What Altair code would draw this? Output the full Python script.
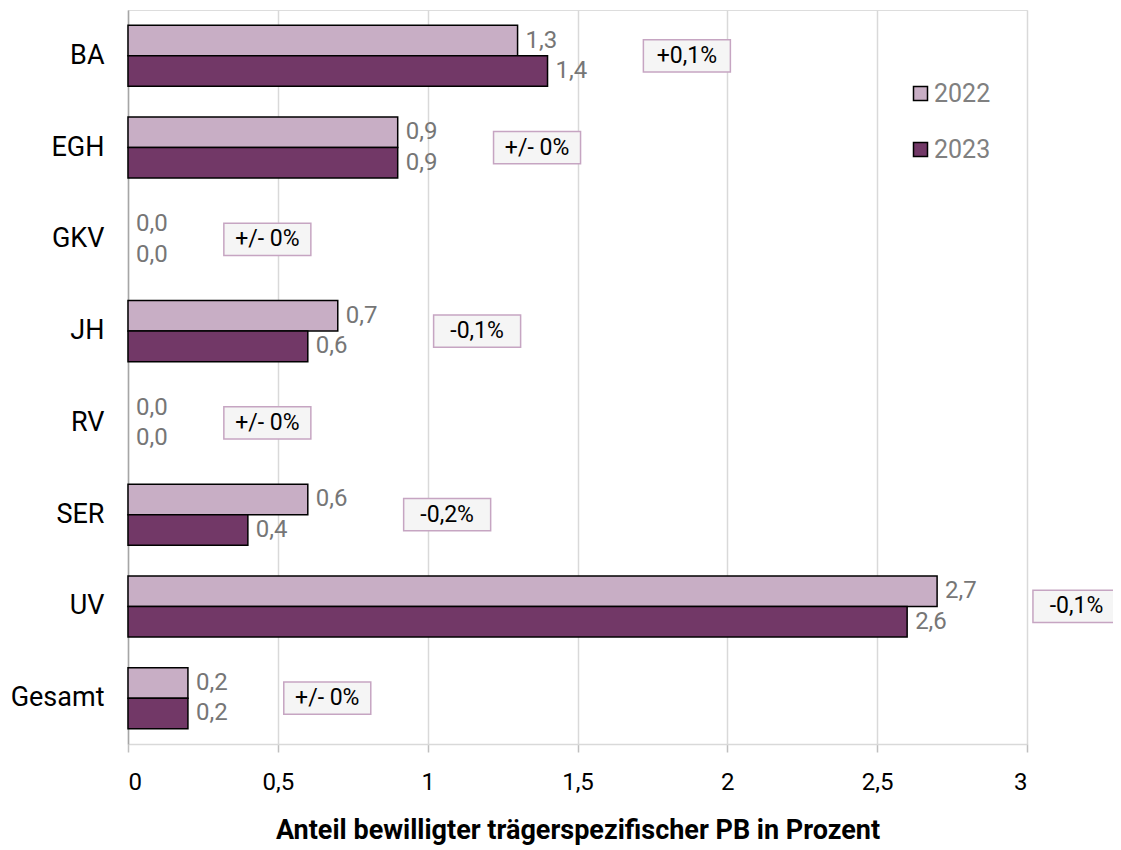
import altair as alt
import pandas as pd

categories = ["BA", "EGH", "GKV", "JH", "RV", "SER", "UV", "Gesamt"]
years = ["2022", "2023"]
values_2022 = [1.3, 0.9, 0.0, 0.7, 0.0, 0.6, 2.7, 0.2]
values_2023 = [1.4, 0.9, 0.0, 0.6, 0.0, 0.4, 2.6, 0.2]
changes = ["+0,1%", "+/- 0%", "+/- 0%", "-0,1%", "+/- 0%", "-0,2%", "-0,1%", "+/- 0%"]
colors = ["#c8aec5", "#723867"]
x_ticks = [0, 0.5, 1, 1.5, 2, 2.5, 3]

rows = []
for c, a, b in zip(categories, values_2022, values_2023):
    for y, v in zip(years, [a, b]):
        rows.append({"cat": c, "year": y, "value": v,
                     "label": f"{v:.1f}".replace(".", ",")})
df = pd.DataFrame(rows)

box_offset = 0.465
boxes = pd.DataFrame({
    "cat": categories,
    "change": changes,
    "xpos": [max(a, b) + box_offset for a, b in zip(values_2022, values_2023)],
})

FONT = "Roboto"
yscale = alt.Scale(domain=categories, paddingInner=0.335, paddingOuter=0.167)

base = alt.Chart(df)

bars = base.mark_bar(stroke="black").encode(
    y=alt.Y("cat:N", scale=yscale, sort=categories, title=None,
            axis=alt.Axis(labelFontSize=27, labelColor="black", labelFont=FONT,
                          labelPadding=24, ticks=False, domainColor="#a6a6a6",
                          domainWidth=1.5, grid=False)),
    yOffset=alt.YOffset("year:N", sort=years, scale=alt.Scale(domain=years, paddingInner=0, paddingOuter=0)),
    x=alt.X("value:Q", scale=alt.Scale(domain=[0, 3], nice=False),
            title="Anteil bewilligter trägerspezifischer PB in Prozent",
            axis=alt.Axis(values=x_ticks,
                          labelExpr="replace(format(datum.value, '~g'), '.', ',')",
                          labelFontSize=24, labelColor="black", labelFont=FONT,
                          labelPadding=18, tickSize=8, tickColor="#bfbfbf", tickWidth=1.5,
                          domainColor="#d9d9d9", domainWidth=1.5,
                          gridColor="#d9d9d9", gridWidth=1.5,
                          titleFont=FONT, titleFontSize=27, titleFontWeight="bold",
                          titleColor="black", titlePadding=23)),
    color=alt.Color("year:N", scale=alt.Scale(domain=years, range=colors),
                    legend=alt.Legend(title=None, orient="none", legendX=780, legendY=71,
                                      symbolType="square", symbolSize=196,
                                      symbolStrokeColor="black", symbolStrokeWidth=1.5,
                                      labelFontSize=25, labelColor="#808080", labelFont=FONT,
                                      labelOffset=1, rowPadding=30)),
    strokeWidth=alt.condition("datum.value == 0", alt.value(0), alt.value(1.5)),
)

texts = base.mark_text(align="left", baseline="middle", dx=8, fontSize=24,
                       font=FONT, color="#767676").encode(
    y=alt.Y("cat:N", scale=yscale, sort=categories),
    yOffset=alt.YOffset("year:N", sort=years),
    x=alt.X("value:Q"),
    text="label:N",
)

bw = 87
box_shape = "M-1,-0.37L1,-0.37L1,0.37L-1,0.37Z"
box_base = alt.Chart(boxes)
box_rects = box_base.mark_point(shape=box_shape, size=bw * bw, fill="#f5f5f5",
                                fillOpacity=1, stroke="#c6a5c2", strokeWidth=1.5,
                                strokeOpacity=1, opacity=1).encode(
    y=alt.Y("cat:N", scale=yscale, sort=categories),
    x=alt.X("xpos:Q"),
)
box_texts = box_base.mark_text(align="center", baseline="middle", fontSize=23,
                               font=FONT, color="black").encode(
    y=alt.Y("cat:N", scale=yscale, sort=categories),
    x=alt.X("xpos:Q"),
    text="change:N",
)

chart = alt.layer(bars, texts, box_rects, box_texts).properties(
    width=899, height=734,
    autosize="none",
    padding={"left": 120, "top": 2, "right": 86, "bottom": 104},
).configure_view(stroke=None).configure(font=FONT)

chart.save("out.html", embed_options={"renderer": "svg", "actions": False})
